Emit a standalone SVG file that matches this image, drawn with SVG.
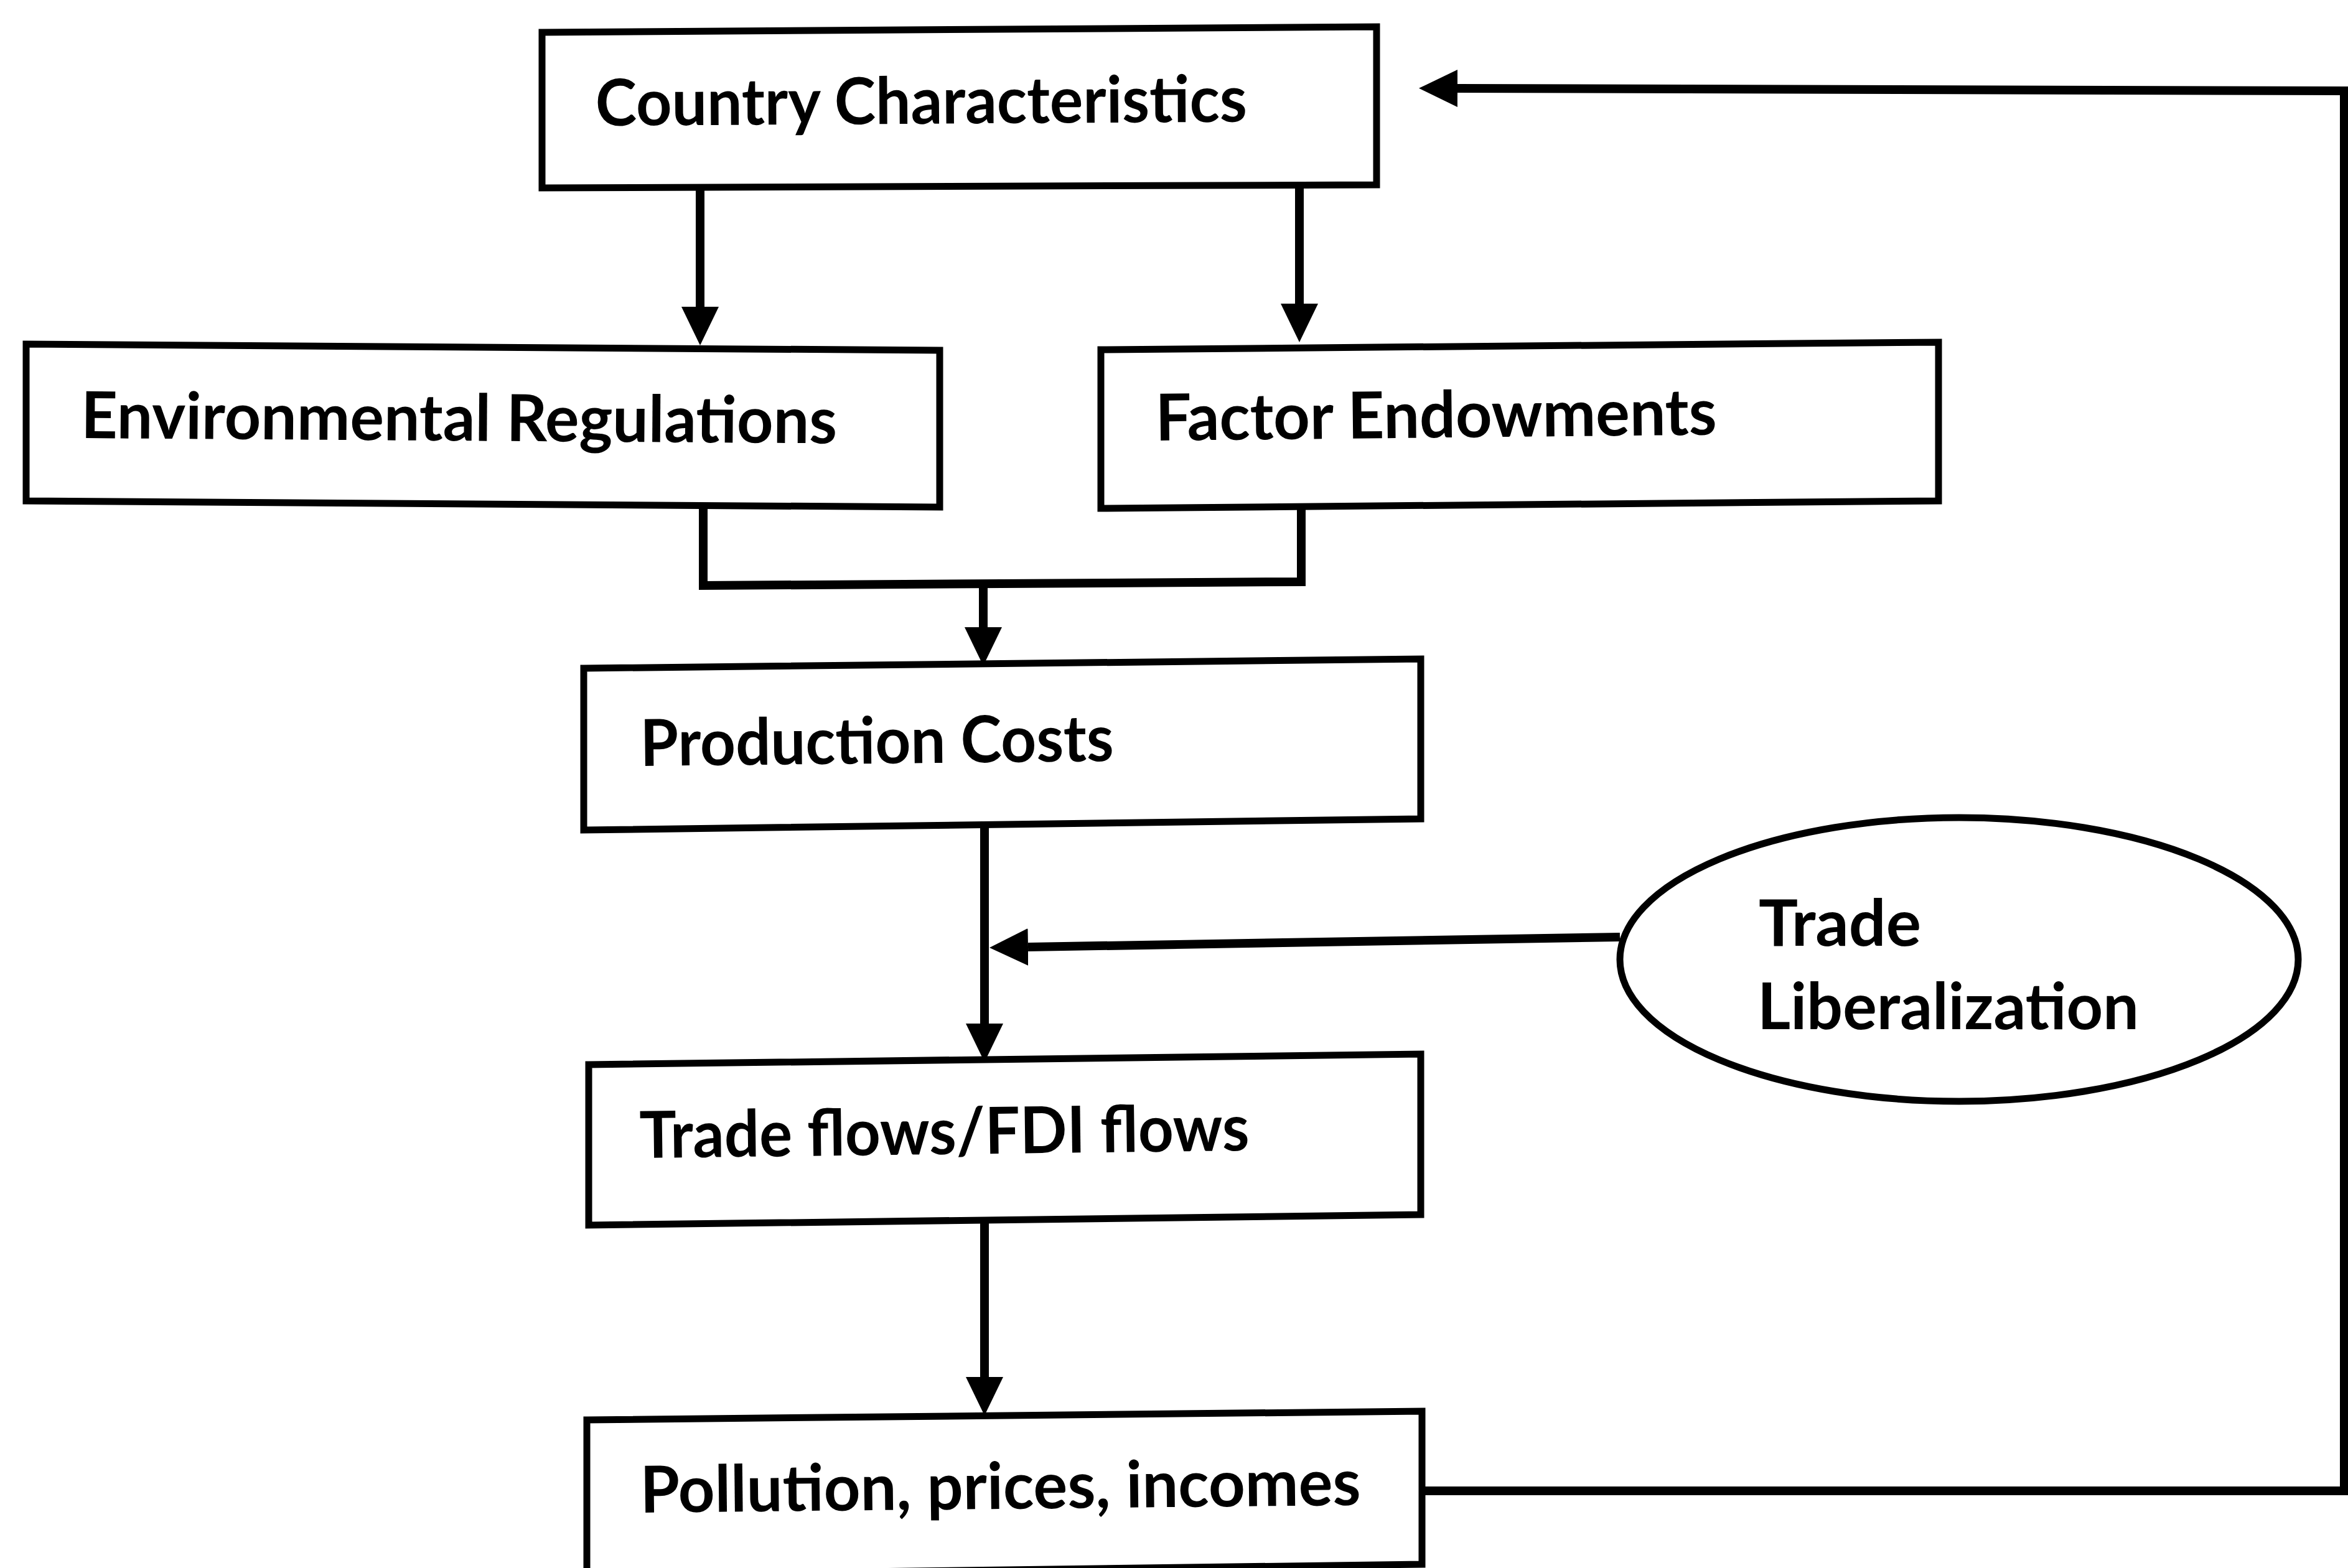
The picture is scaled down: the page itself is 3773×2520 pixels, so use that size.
<svg xmlns="http://www.w3.org/2000/svg" width="3773" height="2520" viewBox="0 0 3773 2520">
<defs>
<style>
.box{fill:#fff;stroke:#000;stroke-width:11;stroke-linejoin:miter}
.lbl{font-family:Lato,"Liberation Sans",sans-serif;font-size:104px;font-weight:700;fill:#000}
.con{fill:none;stroke:#000;stroke-width:14;stroke-linejoin:miter}
</style>
<marker id="ah" viewBox="0 0 62 60" refX="0" refY="30" markerWidth="62" markerHeight="60" markerUnits="userSpaceOnUse" orient="auto">
<path d="M0,0 L62,30 L0,60 z" fill="#000"/>
</marker>
</defs>
<rect width="3773" height="2520" fill="#fff"/>
<g id="connectors">
<line class="con" x1="1125" y1="302" x2="1125" y2="493" marker-end="url(#ah)"/>
<line class="con" x1="2088" y1="298" x2="2088" y2="488" marker-end="url(#ah)"/>
<polyline class="con" points="1130,815 1130,941 2091,935 2091,815"/>
<line class="con" x1="1580" y1="939" x2="1580" y2="1008" marker-end="url(#ah)"/>
<line class="con" x1="1582" y1="1330" x2="1582" y2="1645" marker-end="url(#ah)"/>
<line class="con" x1="2603" y1="1506" x2="1652" y2="1522" marker-end="url(#ah)"/>
<line class="con" x1="1582" y1="1962" x2="1582" y2="2213" marker-end="url(#ah)"/>
<polyline class="con" points="2287,2396 3767,2396 3767,146 2342,142" marker-end="url(#ah)"/>
</g>
<g id="country">
<polygon class="box" points="871,52 2212,43 2212,297 871,302"/>
<text class="lbl" x="957" y="202" textLength="1047" lengthAdjust="spacingAndGlyphs" transform="rotate(-0.35 957 202)">Country Characteristics</text>
</g>
<g id="env">
<polygon class="box" points="42,553 1510,563 1510,815 42,805"/>
<text class="lbl" x="130" y="704" textLength="1215" lengthAdjust="spacingAndGlyphs" transform="rotate(0.4 130 704)">Environmental Regulations</text>
</g>
<g id="factor">
<polygon class="box" points="1769,562 3115,550 3115,805 1769,817"/>
<text class="lbl" x="1857" y="708" textLength="902" lengthAdjust="spacingAndGlyphs" transform="rotate(-0.6 1857 708)">Factor Endowments</text>
</g>
<g id="production">
<polygon class="box" points="938,1074 2283,1059 2283,1316 938,1334"/>
<text class="lbl" x="1029" y="1231" textLength="761" lengthAdjust="spacingAndGlyphs" transform="rotate(-0.6 1029 1231)">Production Costs</text>
</g>
<g id="tradeflows">
<polygon class="box" points="946,1711 2283,1694 2283,1952 946,1969"/>
<text class="lbl" x="1028" y="1861" textLength="980" lengthAdjust="spacingAndGlyphs" transform="rotate(-0.7 1028 1861)">Trade flows/FDI flows</text>
</g>
<g id="pollution">
<polygon class="box" points="943,2282 2285,2268 2285,2514 943,2532"/>
<text class="lbl" x="1029" y="2431" textLength="1158" lengthAdjust="spacingAndGlyphs" transform="rotate(-0.6 1029 2431)">Pollution, prices, incomes</text>
</g>
<g id="tradelib">
<ellipse class="box" cx="3148" cy="1542" rx="545" ry="228"/>
<text class="lbl" x="2826" y="1520" textLength="261" lengthAdjust="spacingAndGlyphs">Trade</text>
<text class="lbl" x="2824" y="1654" textLength="613" lengthAdjust="spacingAndGlyphs">Liberalization</text>
</g>
</svg>
